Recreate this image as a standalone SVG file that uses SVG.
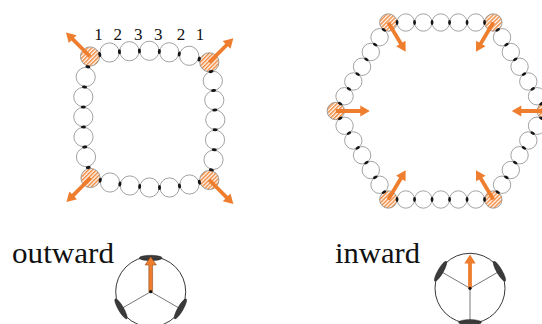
<svg xmlns="http://www.w3.org/2000/svg" xmlns:xlink="http://www.w3.org/1999/xlink" width="542" height="324" viewBox="0 0 542 324">
<defs>
  <pattern id="hatch" patternUnits="userSpaceOnUse" width="2.8" height="2.8" patternTransform="rotate(-45)">
    <rect width="2.8" height="2.8" fill="#ffffff"/>
    <rect width="2.8" height="1.5" fill="#f28a3e"/>
  </pattern>
  <pattern id="dots" patternUnits="userSpaceOnUse" width="1.5" height="1.5">
    <rect width="1.5" height="1.5" fill="#0d0d0d"/>
    <circle cx="0.75" cy="0.75" r="0.38" fill="#fff"/>
  </pattern>
  <path id="arr" d="M0,-1.9 L24.5,-1.9 L24.5,-5.5 L34,0 L24.5,5.5 L24.5,1.9 L0,1.9 Z"/>
</defs>
<style>
  .s { fill: #fff; stroke: #8a8a8a; stroke-width: 0.8; }
  .sh { fill: url(#hatch); stroke: #8a8a8a; stroke-width: 0.8; }
  .j { fill: #151515; }
  .a { fill: #ef7d2e; }
  .lab { font-family: "Liberation Serif", "DejaVu Serif", serif; font-size: 17px; fill: #111; text-anchor: middle; }
  .big { font-family: "Liberation Serif", "DejaVu Serif", serif; font-size: 29px; fill: #111; }
  .bc { fill: #fff; stroke: #222; stroke-width: 0.9; }
  .sp { stroke: #555; stroke-width: 0.8; fill: none; }
  .pt { fill: url(#dots); stroke: #111; stroke-width: 0.4; }
</style>

<g id="square-ring">
  <g id="sq-circles">
    <circle class="sh" cx="90" cy="56.5" r="9.6"/>
    <circle class="s" cx="109.5" cy="52.5" r="9.6"/>
    <circle class="s" cx="129.4" cy="51.2" r="9.6"/>
    <circle class="s" cx="149.4" cy="50.8" r="9.6"/>
    <circle class="s" cx="169.3" cy="52.3" r="9.6"/>
    <circle class="s" cx="189.2" cy="55.8" r="9.6"/>
    <circle class="sh" cx="209.3" cy="62.3" r="9.6"/>
    <circle class="s" cx="212.8" cy="80.8" r="9.6"/>
    <circle class="s" cx="214.3" cy="100.2" r="9.6"/>
    <circle class="s" cx="215.3" cy="119.8" r="9.6"/>
    <circle class="s" cx="215" cy="139.8" r="9.6"/>
    <circle class="s" cx="213.5" cy="159.8" r="9.6"/>
    <circle class="sh" cx="209.3" cy="180" r="9.6"/>
    <circle class="s" cx="189.5" cy="184.5" r="9.6"/>
    <circle class="s" cx="169.5" cy="187.5" r="9.6"/>
    <circle class="s" cx="149.5" cy="187.5" r="9.6"/>
    <circle class="s" cx="129.8" cy="185.5" r="9.6"/>
    <circle class="s" cx="110" cy="182.5" r="9.6"/>
    <circle class="sh" cx="90.5" cy="178" r="9.6"/>
    <circle class="s" cx="86" cy="157" r="9.6"/>
    <circle class="s" cx="83.5" cy="137" r="9.6"/>
    <circle class="s" cx="83.3" cy="117" r="9.6"/>
    <circle class="s" cx="83.3" cy="97" r="9.6"/>
    <circle class="s" cx="85.7" cy="77" r="9.6"/>
  </g>
  <g id="sq-junctions">
    <ellipse class="j" cx="99.75" cy="54.5" rx="1.5" ry="2.5" transform="rotate(-11.6 99.75 54.5)"/>
    <ellipse class="j" cx="119.45" cy="51.85" rx="1.5" ry="2.5" transform="rotate(-3.7 119.45 51.85)"/>
    <ellipse class="j" cx="139.4" cy="51" rx="1.5" ry="2.5" transform="rotate(-1.1 139.4 51)"/>
    <ellipse class="j" cx="159.35" cy="51.55" rx="1.5" ry="2.5" transform="rotate(4.3 159.35 51.55)"/>
    <ellipse class="j" cx="179.25" cy="54.05" rx="1.5" ry="2.5" transform="rotate(10 179.25 54.05)"/>
    <ellipse class="j" cx="199.25" cy="59.05" rx="1.5" ry="2.5" transform="rotate(17.9 199.25 59.05)"/>
    <ellipse class="j" cx="211.05" cy="71.55" rx="1.5" ry="2.5" transform="rotate(79.3 211.05 71.55)"/>
    <ellipse class="j" cx="213.55" cy="90.5" rx="1.5" ry="2.5" transform="rotate(85.6 213.55 90.5)"/>
    <ellipse class="j" cx="214.8" cy="110" rx="1.5" ry="2.5" transform="rotate(87 214.8 110)"/>
    <ellipse class="j" cx="215.15" cy="129.8" rx="1.5" ry="2.5" transform="rotate(90.9 215.15 129.8)"/>
    <ellipse class="j" cx="214.25" cy="149.8" rx="1.5" ry="2.5" transform="rotate(94.3 214.25 149.8)"/>
    <ellipse class="j" cx="211.4" cy="169.9" rx="1.5" ry="2.5" transform="rotate(101.7 211.4 169.9)"/>
    <ellipse class="j" cx="199.4" cy="182.25" rx="1.5" ry="2.5" transform="rotate(-12.8 199.4 182.25)"/>
    <ellipse class="j" cx="179.5" cy="186" rx="1.5" ry="2.5" transform="rotate(-8.5 179.5 186)"/>
    <ellipse class="j" cx="159.5" cy="187.5" rx="1.5" ry="2.5"/>
    <ellipse class="j" cx="139.65" cy="186.5" rx="1.5" ry="2.5" transform="rotate(5.8 139.65 186.5)"/>
    <ellipse class="j" cx="119.9" cy="184" rx="1.5" ry="2.5" transform="rotate(8.6 119.9 184)"/>
    <ellipse class="j" cx="100.25" cy="180.25" rx="1.5" ry="2.5" transform="rotate(13 100.25 180.25)"/>
    <ellipse class="j" cx="88.25" cy="167.5" rx="1.5" ry="2.5" transform="rotate(77.9 88.25 167.5)"/>
    <ellipse class="j" cx="84.75" cy="147" rx="1.5" ry="2.5" transform="rotate(82.9 84.75 147)"/>
    <ellipse class="j" cx="83.4" cy="127" rx="1.5" ry="2.5" transform="rotate(89.4 83.4 127)"/>
    <ellipse class="j" cx="83.3" cy="107" rx="1.5" ry="2.5" transform="rotate(90 83.3 107)"/>
    <ellipse class="j" cx="84.5" cy="87" rx="1.5" ry="2.5" transform="rotate(96.8 84.5 87)"/>
    <ellipse class="j" cx="87.85" cy="66.75" rx="1.5" ry="2.5" transform="rotate(101.8 87.85 66.75)"/>
  </g>
  <g id="sq-labels">
    <text class="lab" x="98.5" y="40">1</text>
    <text class="lab" x="117.7" y="40">2</text>
    <text class="lab" x="138.3" y="40">3</text>
    <text class="lab" x="158.3" y="40">3</text>
    <text class="lab" x="181" y="40">2</text>
    <text class="lab" x="200" y="40">1</text>
  </g>
  <g id="sq-arrows" class="a">
    <use xlink:href="#arr" href="#arr" transform="translate(90 56.5) rotate(-135)"/>
    <use xlink:href="#arr" href="#arr" transform="translate(209.3 62.3) rotate(-45)"/>
    <use xlink:href="#arr" href="#arr" transform="translate(209.3 180) rotate(45)"/>
    <use xlink:href="#arr" href="#arr" transform="translate(90.5 178) rotate(135)"/>
  </g>
</g>

<g id="hex-ring">
  <g id="hex-circles">
    <circle class="sh" cx="388.3" cy="22.5" r="8.7"/>
    <circle class="s" cx="405.8" cy="22.5" r="8.7"/>
    <circle class="s" cx="423.3" cy="22.5" r="8.7"/>
    <circle class="s" cx="440.8" cy="22.5" r="8.7"/>
    <circle class="s" cx="458.3" cy="22.5" r="8.7"/>
    <circle class="s" cx="475.8" cy="22.5" r="8.7"/>
    <circle class="sh" cx="493.3" cy="22.5" r="8.7"/>
    <circle class="s" cx="502.05" cy="37.25" r="8.7"/>
    <circle class="s" cx="510.8" cy="52" r="8.7"/>
    <circle class="s" cx="519.55" cy="66.75" r="8.7"/>
    <circle class="s" cx="528.3" cy="81.5" r="8.7"/>
    <circle class="s" cx="537.05" cy="96.25" r="8.7"/>
    <circle class="sh" cx="545.8" cy="111" r="8.7"/>
    <circle class="s" cx="537.05" cy="125.75" r="8.7"/>
    <circle class="s" cx="528.3" cy="140.5" r="8.7"/>
    <circle class="s" cx="519.55" cy="155.25" r="8.7"/>
    <circle class="s" cx="510.8" cy="170" r="8.7"/>
    <circle class="s" cx="502.05" cy="184.75" r="8.7"/>
    <circle class="sh" cx="493.3" cy="199.5" r="8.7"/>
    <circle class="s" cx="475.8" cy="199.5" r="8.7"/>
    <circle class="s" cx="458.3" cy="199.5" r="8.7"/>
    <circle class="s" cx="440.8" cy="199.5" r="8.7"/>
    <circle class="s" cx="423.3" cy="199.5" r="8.7"/>
    <circle class="s" cx="405.8" cy="199.5" r="8.7"/>
    <circle class="sh" cx="388.3" cy="199.5" r="8.7"/>
    <circle class="s" cx="379.55" cy="184.75" r="8.7"/>
    <circle class="s" cx="370.8" cy="170" r="8.7"/>
    <circle class="s" cx="362.05" cy="155.25" r="8.7"/>
    <circle class="s" cx="353.3" cy="140.5" r="8.7"/>
    <circle class="s" cx="344.55" cy="125.75" r="8.7"/>
    <circle class="sh" cx="335.8" cy="111" r="8.7"/>
    <circle class="s" cx="344.55" cy="96.25" r="8.7"/>
    <circle class="s" cx="353.3" cy="81.5" r="8.7"/>
    <circle class="s" cx="362.05" cy="66.75" r="8.7"/>
    <circle class="s" cx="370.8" cy="52" r="8.7"/>
    <circle class="s" cx="379.55" cy="37.25" r="8.7"/>
  </g>
  <g id="hex-junctions">
    <ellipse class="j" cx="397.05" cy="22.5" rx="1.4" ry="2.4"/>
    <ellipse class="j" cx="414.55" cy="22.5" rx="1.4" ry="2.4"/>
    <ellipse class="j" cx="432.05" cy="22.5" rx="1.4" ry="2.4"/>
    <ellipse class="j" cx="449.55" cy="22.5" rx="1.4" ry="2.4"/>
    <ellipse class="j" cx="467.05" cy="22.5" rx="1.4" ry="2.4"/>
    <ellipse class="j" cx="484.55" cy="22.5" rx="1.4" ry="2.4"/>
    <ellipse class="j" cx="497.675" cy="29.875" rx="1.4" ry="2.4" transform="rotate(59.3 497.675 29.875)"/>
    <ellipse class="j" cx="506.425" cy="44.625" rx="1.4" ry="2.4" transform="rotate(59.3 506.425 44.625)"/>
    <ellipse class="j" cx="515.175" cy="59.375" rx="1.4" ry="2.4" transform="rotate(59.3 515.175 59.375)"/>
    <ellipse class="j" cx="523.925" cy="74.125" rx="1.4" ry="2.4" transform="rotate(59.3 523.925 74.125)"/>
    <ellipse class="j" cx="532.675" cy="88.875" rx="1.4" ry="2.4" transform="rotate(59.3 532.675 88.875)"/>
    <ellipse class="j" cx="541.425" cy="103.625" rx="1.4" ry="2.4" transform="rotate(59.3 541.425 103.625)"/>
    <ellipse class="j" cx="541.425" cy="118.375" rx="1.4" ry="2.4" transform="rotate(-59.3 541.425 118.375)"/>
    <ellipse class="j" cx="532.675" cy="133.125" rx="1.4" ry="2.4" transform="rotate(-59.3 532.675 133.125)"/>
    <ellipse class="j" cx="523.925" cy="147.875" rx="1.4" ry="2.4" transform="rotate(-59.3 523.925 147.875)"/>
    <ellipse class="j" cx="515.175" cy="162.625" rx="1.4" ry="2.4" transform="rotate(-59.3 515.175 162.625)"/>
    <ellipse class="j" cx="506.425" cy="177.375" rx="1.4" ry="2.4" transform="rotate(-59.3 506.425 177.375)"/>
    <ellipse class="j" cx="497.675" cy="192.125" rx="1.4" ry="2.4" transform="rotate(-59.3 497.675 192.125)"/>
    <ellipse class="j" cx="484.55" cy="199.5" rx="1.4" ry="2.4"/>
    <ellipse class="j" cx="467.05" cy="199.5" rx="1.4" ry="2.4"/>
    <ellipse class="j" cx="449.55" cy="199.5" rx="1.4" ry="2.4"/>
    <ellipse class="j" cx="432.05" cy="199.5" rx="1.4" ry="2.4"/>
    <ellipse class="j" cx="414.55" cy="199.5" rx="1.4" ry="2.4"/>
    <ellipse class="j" cx="397.05" cy="199.5" rx="1.4" ry="2.4"/>
    <ellipse class="j" cx="383.925" cy="192.125" rx="1.4" ry="2.4" transform="rotate(59.3 383.925 192.125)"/>
    <ellipse class="j" cx="375.175" cy="177.375" rx="1.4" ry="2.4" transform="rotate(59.3 375.175 177.375)"/>
    <ellipse class="j" cx="366.425" cy="162.625" rx="1.4" ry="2.4" transform="rotate(59.3 366.425 162.625)"/>
    <ellipse class="j" cx="357.675" cy="147.875" rx="1.4" ry="2.4" transform="rotate(59.3 357.675 147.875)"/>
    <ellipse class="j" cx="348.925" cy="133.125" rx="1.4" ry="2.4" transform="rotate(59.3 348.925 133.125)"/>
    <ellipse class="j" cx="340.175" cy="118.375" rx="1.4" ry="2.4" transform="rotate(59.3 340.175 118.375)"/>
    <ellipse class="j" cx="340.175" cy="103.625" rx="1.4" ry="2.4" transform="rotate(-59.3 340.175 103.625)"/>
    <ellipse class="j" cx="348.925" cy="88.875" rx="1.4" ry="2.4" transform="rotate(-59.3 348.925 88.875)"/>
    <ellipse class="j" cx="357.675" cy="74.125" rx="1.4" ry="2.4" transform="rotate(-59.3 357.675 74.125)"/>
    <ellipse class="j" cx="366.425" cy="59.375" rx="1.4" ry="2.4" transform="rotate(-59.3 366.425 59.375)"/>
    <ellipse class="j" cx="375.175" cy="44.625" rx="1.4" ry="2.4" transform="rotate(-59.3 375.175 44.625)"/>
    <ellipse class="j" cx="383.925" cy="29.875" rx="1.4" ry="2.4" transform="rotate(-59.3 383.925 29.875)"/>
  </g>
  <g id="hex-arrows" class="a">
    <use xlink:href="#arr" href="#arr" transform="translate(388.3 22.5) rotate(59.3)"/>
    <use xlink:href="#arr" href="#arr" transform="translate(493.3 22.5) rotate(120.7)"/>
    <use xlink:href="#arr" href="#arr" transform="translate(545.8 111) rotate(180)"/>
    <use xlink:href="#arr" href="#arr" transform="translate(493.3 199.5) rotate(-120.7)"/>
    <use xlink:href="#arr" href="#arr" transform="translate(388.3 199.5) rotate(-59.3)"/>
    <use xlink:href="#arr" href="#arr" transform="translate(335.8 111) rotate(0)"/>
  </g>
</g>

<g id="outward">
  <text class="big" x="12" y="263.3" textLength="102" lengthAdjust="spacingAndGlyphs">outward</text>
  <circle class="bc" cx="150.7" cy="291.7" r="35"/>
  <path class="sp" d="M150.7,291.7 L150.7,256.7 M150.7,291.7 L120.4,309.2 M150.7,291.7 L181,309.2"/>
  <ellipse class="pt" cx="150.7" cy="258" rx="11.5" ry="2.7"/>
  <ellipse class="pt" cx="121" cy="308.85" rx="11.5" ry="2.7" transform="rotate(60 121 308.85)"/>
  <ellipse class="pt" cx="180.4" cy="308.85" rx="11.5" ry="2.7" transform="rotate(-60 180.4 308.85)"/>
  <path class="a" stroke="#7a3d12" stroke-width="0.5" d="M148.8,291.7 L148.8,265 L145,265 L150.7,256.7 L156.4,265 L152.6,265 L152.6,291.7 Z"/>
  <circle cx="150.7" cy="291.7" r="1.6" fill="#111"/>
</g>

<g id="inward">
  <text class="big" x="335" y="263.3" textLength="85" lengthAdjust="spacingAndGlyphs">inward</text>
  <circle class="bc" cx="470" cy="288.3" r="35"/>
  <path class="sp" d="M470,288.3 L470,323.3 M470,288.3 L439.7,270.8 M470,288.3 L500.3,270.8"/>
  <ellipse class="pt" cx="440.55" cy="271.3" rx="11.5" ry="2.7" transform="rotate(-60 440.55 271.3)"/>
  <ellipse class="pt" cx="499.45" cy="271.3" rx="11.5" ry="2.7" transform="rotate(60 499.45 271.3)"/>
  <ellipse class="pt" cx="470" cy="322.3" rx="11.5" ry="2.7"/>
  <path class="a" d="M468.1,288.3 L468.1,263.5 L464.3,263.5 L470,254.6 L475.7,263.5 L471.9,263.5 L471.9,288.3 Z"/>
  <circle cx="470" cy="288.3" r="1.6" fill="#111"/>
</g>
</svg>
